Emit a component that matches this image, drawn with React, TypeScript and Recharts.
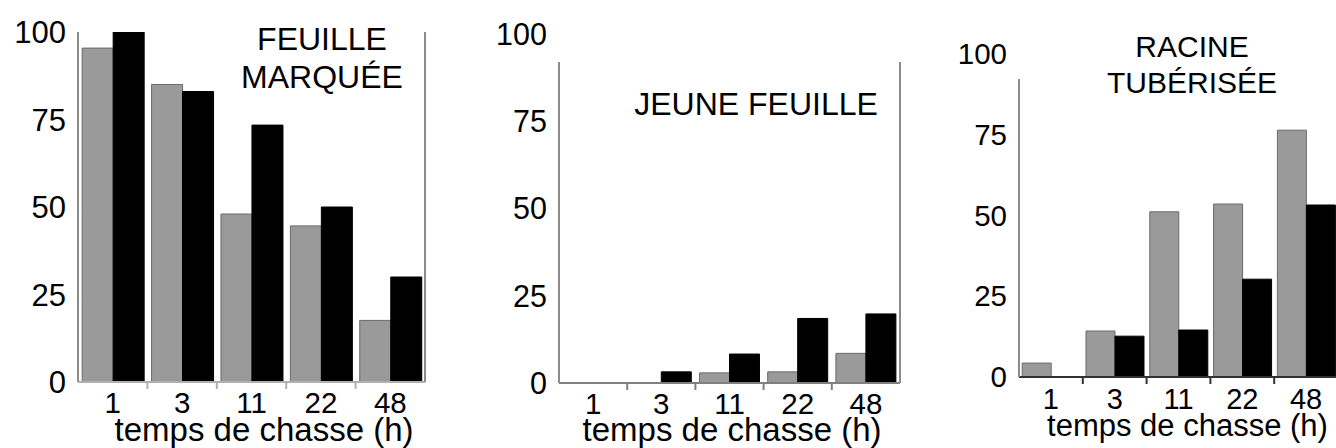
import React from 'react';
import { BarChart, Bar, XAxis, YAxis } from 'recharts';

const FONT = '"Liberation Sans", Arial, Helvetica, sans-serif';

const categories = ['1', '3', '11', '22', '48'];
const yTicks = [0, 25, 50, 75, 100];
const xAxisTitle = 'temps de chasse (h)';

const feuilleMarqueeGris = [95.4, 85, 48, 44.6, 17.6];
const feuilleMarqueeNoir = [100, 83, 73.4, 50, 30];
const jeuneFeuilleGris = [0, 0, 2.9, 3.2, 8.5];
const jeuneFeuilleNoir = [0, 3.2, 8.3, 18.5, 19.8];
const racineGris = [4.3, 14.2, 51, 53.4, 76.2];
const racineNoir = [0, 12.6, 14.5, 30.2, 53.1];

const titreFeuilleMarquee = ['FEUILLE', 'MARQUÉE'];
const titreJeuneFeuille = ['JEUNE FEUILLE'];
const titreRacine = ['RACINE', 'TUBÉRISÉE'];

type Cfg = {
  left: number;
  width: number;
  margin: { top: number; right: number; bottom: number; left: number };
  yWidth: number;
  domainMax: number;
  rightLine: boolean;
  gap: string;
  baseColor: string;
  yFont: number;
  xFont: number;
  xTickMargin: number;
  labelSize: number;
  labelOffset: number;
  labelDx: number;
  titleCx: number;
  titleTop: number;
  titleSize: number;
  titleLine: number;
};

function makeTick(cfg: Cfg) {
  return function CatTick(props: any) {
    const { x, y, payload, index } = props;
    const half = payload && typeof payload.offset === 'number' ? payload.offset : 0;
    return (
      <g>
        {index > 0 && (
          <line
            x1={x - half}
            x2={x - half}
            y1={y}
            y2={y + 7}
            stroke={cfg.baseColor}
            strokeWidth={2}
          />
        )}
        <text
          x={x}
          y={y + cfg.xTickMargin}
          dy="0.71em"
          textAnchor="middle"
          fill="#000"
          fontSize={cfg.xFont}
          fontFamily={FONT}
        >
          {payload.value}
        </text>
      </g>
    );
  };
}

function Panel({ cfg, gris, noir, title }: { cfg: Cfg; gris: number[]; noir: number[]; title: string[] }) {
  const data = categories.map((c, i) => ({ t: c, gris: gris[i], noir: noir[i] }));
  const Tick = makeTick(cfg);
  return (
    <div style={{ position: 'absolute', left: cfg.left, top: 0, width: cfg.width, height: 448 }}>
      <BarChart
        width={cfg.width}
        height={448}
        data={data}
        margin={cfg.margin}
        barCategoryGap={cfg.gap}
        barGap={0}
      >
        <XAxis
          dataKey="t"
          type="category"
          height={1}
          axisLine={{ stroke: cfg.baseColor, strokeWidth: 2 }}
          tickLine={false}
          tickSize={0}
          tickMargin={0}
          interval={0}
          tick={<Tick />}
          label={{
            value: xAxisTitle,
            position: 'bottom',
            offset: cfg.labelOffset,
            dx: cfg.labelDx,
            fill: '#000',
            fontSize: cfg.labelSize,
            fontFamily: FONT,
          }}
        />
        <YAxis
          yAxisId="v"
          type="number"
          width={cfg.yWidth}
          domain={[0, cfg.domainMax]}
          allowDataOverflow
          ticks={yTicks}
          interval={0}
          tickLine={false}
          tickSize={0}
          tickMargin={12}
          axisLine={{ stroke: '#8c8c8c', strokeWidth: 2 }}
          tick={{ fill: '#000', fontSize: cfg.yFont, fontFamily: FONT }}
        />
        {cfg.rightLine && (
          <YAxis
            yAxisId="r"
            orientation="right"
            type="number"
            width={1}
            domain={[0, 100]}
            tick={false}
            tickLine={false}
            axisLine={{ stroke: '#8c8c8c', strokeWidth: 2 }}
          />
        )}
        <Bar
          yAxisId="v"
          dataKey="gris"
          name="gris"
          fill="#9a9a9a"
          stroke="#6a6a6a"
          strokeWidth={1}
          isAnimationActive={false}
        />
        <Bar
          yAxisId="v"
          dataKey="noir"
          name="noir"
          fill="#000000"
          stroke="#000000"
          strokeWidth={1}
          isAnimationActive={false}
        />
      </BarChart>
      <div
        style={{
          position: 'absolute',
          left: cfg.titleCx - cfg.left - 200,
          top: cfg.titleTop,
          width: 400,
          textAlign: 'center',
          fontFamily: FONT,
          fontSize: cfg.titleSize,
          lineHeight: `${cfg.titleLine}px`,
          color: '#000',
          whiteSpace: 'nowrap',
        }}
      >
        {title.map((l) => (
          <div key={l}>{l}</div>
        ))}
      </div>
    </div>
  );
}

const cfg1: Cfg = {
  left: 0,
  width: 445,
  margin: { top: 32, right: 19, bottom: 65, left: 0 },
  yWidth: 78,
  domainMax: 100,
  rightLine: true,
  gap: '6%',
  baseColor: '#b0b0b0',
  yFont: 31,
  xFont: 29.5,
  xTickMargin: 10,
  labelSize: 33,
  labelOffset: 34.6,
  labelDx: 12.5,
  titleCx: 322,
  titleTop: 20,
  titleSize: 32,
  titleLine: 38,
};

const cfg2: Cfg = {
  left: 445,
  width: 460,
  margin: { top: 62, right: 4, bottom: 64, left: 0 },
  yWidth: 114,
  domainMax: 92,
  rightLine: true,
  gap: '6%',
  baseColor: '#808080',
  yFont: 30.5,
  xFont: 29.5,
  xTickMargin: 10,
  labelSize: 33,
  labelOffset: 33.6,
  labelDx: 2.5,
  titleCx: 756,
  titleTop: 85,
  titleSize: 32,
  titleLine: 38,
};

const cfg3: Cfg = {
  left: 905,
  width: 440,
  margin: { top: 79, right: 7, bottom: 70, left: 0 },
  yWidth: 114,
  domainMax: 92,
  rightLine: false,
  gap: '5%',
  baseColor: '#333333',
  yFont: 29.5,
  xFont: 29,
  xTickMargin: 11,
  labelSize: 31,
  labelOffset: 35.6,
  labelDx: 9,
  titleCx: 1192,
  titleTop: 28.6,
  titleSize: 30,
  titleLine: 36,
};

export default function App() {
  return (
    <div
      style={{
        position: 'absolute',
        left: 0,
        top: 0,
        width: 1336,
        height: 448,
        overflow: 'hidden',
        background: '#fff',
      }}
    >
      <Panel cfg={cfg1} gris={feuilleMarqueeGris} noir={feuilleMarqueeNoir} title={titreFeuilleMarquee} />
      <Panel cfg={cfg2} gris={jeuneFeuilleGris} noir={jeuneFeuilleNoir} title={titreJeuneFeuille} />
      <Panel cfg={cfg3} gris={racineGris} noir={racineNoir} title={titreRacine} />
    </div>
  );
}
